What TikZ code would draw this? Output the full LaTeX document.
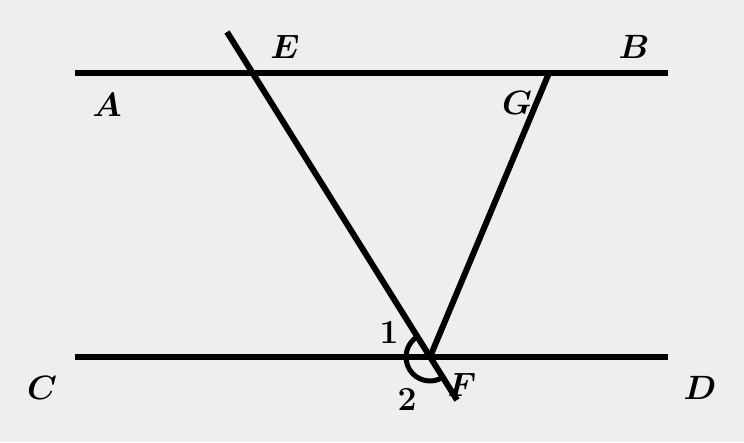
\documentclass[tikz,border=0pt]{standalone}
\usepackage{amsmath,amssymb}
\usepackage{xcolor}
\usetikzlibrary{calc}
\definecolor{paper}{RGB}{238,238,238}

\begin{document}
\begin{tikzpicture}[
  x=1pt, y=1pt,
  ln/.style={line width=6pt, black},
  lbl/.style={font=\LARGE\boldmath, inner sep=0pt, scale=1.95, transform shape},
]
\fill[paper] (0,0) rectangle (744,442);
\useasboundingbox (0,0) rectangle (744,442);
% the two parallels
\coordinate (a0) at (75,369);
\coordinate (b0) at (668,369);
\coordinate (c0) at (75,85);
\coordinate (d0) at (668,85);
\coordinate (F) at (430,85);
\coordinate (e0) at (227,410);
\coordinate (f0) at (457,42);
\coordinate (G) at (549,369);
\draw[ln] (a0) -- (b0);
\draw[ln] (c0) -- (d0);
\draw[ln] (e0) -- (f0);
\draw[ln] (F) -- (G);
% angle 2
\draw[line width=5pt] ($(F)+(122:24)$) arc[start angle=122, end angle=302, radius=24];
% labels
\node[lbl] (labE) at (285,395) {$E$};
\node[lbl] (labB) at (634,395) {$B$};
\node[lbl] (labA) at (107,337) {$A$};
\node[lbl] (labG) at (517,339) {$G$};
\node[lbl] (labC) at (42,54) {$C$};
\node[lbl] (labD) at (700,54) {$D$};
\node[lbl] (labF) at (462,57) {$F$};
\node[lbl] (one) at (389,109) {$1$};
\node[lbl] (two) at (407,42) {$2$};
\end{tikzpicture}
\end{document}
